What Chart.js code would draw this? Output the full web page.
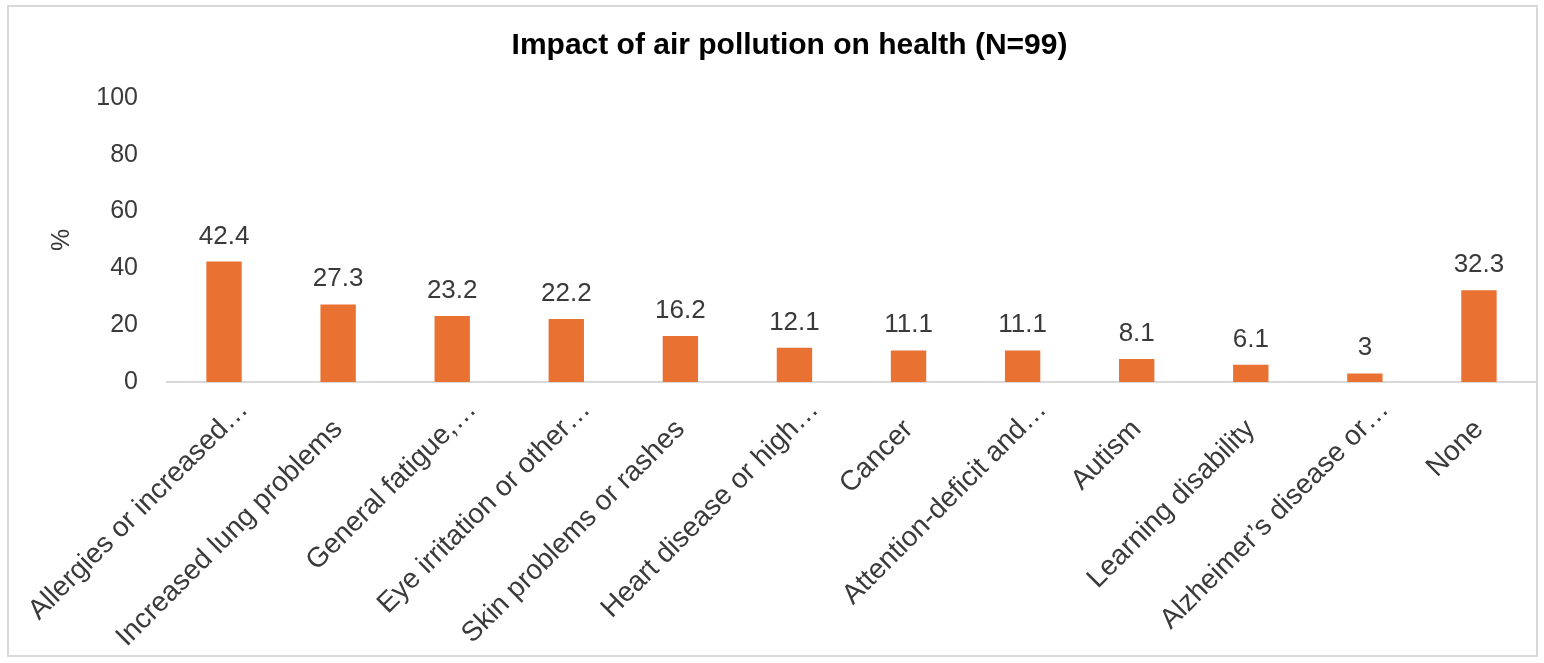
<!DOCTYPE html>
<html>
<head>
<meta charset="utf-8">
<script src="https://cdn.jsdelivr.net/npm/chart.js@4"></script>
<style>
  body { margin: 0; background: #fff; }
  #box {
    position: absolute; left: 7px; top: 5px;
    width: 1527px; height: 648px;
    border: 2px solid #d9d9d9; background: #fff;
  }
</style>
</head>
<body>
<div id="box"><canvas id="chart"></canvas></div>
<script>
const categories = [
  "Allergies or increased…",
  "Increased lung problems",
  "General fatigue,…",
  "Eye irritation or other…",
  "Skin problems or rashes",
  "Heart disease or high…",
  "Cancer",
  "Attention-deficit and…",
  "Autism",
  "Learning disability",
  "Alzheimer’s disease or…",
  "None"
];
const percentages = [42.4, 27.3, 23.2, 22.2, 16.2, 12.1, 11.1, 11.1, 8.1, 6.1, 3, 32.3];
const yTicks = [0, 20, 40, 60, 80, 100];

const FONT = "'Liberation Sans', Arial, sans-serif";
const TEXT = "#3a3a3a";

// rótulos inclinados do eixo x e valores em cima das barras
const labelsPlugin = {
  id: "labelsPlugin",
  afterLayout(chart) {
    // o título fica um pouco à direita do centro no original
    chart.titleBlock.left += 24;
  },
  afterDatasetsDraw(chart) {
    const ctx = chart.ctx;
    const meta = chart.getDatasetMeta(0);
    const xScale = chart.scales.x;
    ctx.save();
    ctx.fillStyle = TEXT;

    ctx.font = "26px " + FONT;
    ctx.textAlign = "center";
    ctx.textBaseline = "alphabetic";
    meta.data.forEach((bar, i) => {
      ctx.fillText(String(percentages[i]), bar.x, bar.y - 18);
    });

    // no Excel os rótulos cortados com "…" ficam mais perto do eixo
    ctx.font = "28px " + FONT;
    ctx.textAlign = "right";
    ctx.textBaseline = "middle";
    categories.forEach((label, i) => {
      const shift = label.endsWith("…") ? 28 : 0;
      ctx.save();
      ctx.translate(xScale.getPixelForTick(i), xScale.top + 43);
      ctx.rotate(-Math.PI / 4);
      ctx.fillText(label, shift, 0);
      ctx.restore();
    });
    ctx.restore();
  }
};

new Chart(document.getElementById("chart"), {
  type: "bar",
  data: {
    labels: categories,
    datasets: [{
      data: percentages,
      backgroundColor: "#e97132",
      categoryPercentage: 1,
      barPercentage: 0.31
    }]
  },
  options: {
    responsive: true,
    maintainAspectRatio: false,
    animation: false,
    layout: { padding: { left: 10, right: 0, top: 0, bottom: 0 } },
    plugins: {
      legend: { display: false },
      tooltip: { enabled: false },
      title: {
        display: true,
        text: "Impact of air pollution on health (N=99)",
        color: "#000",
        font: { family: FONT, size: 30, weight: "bold" },
        padding: { top: 21, bottom: 34 }
      }
    },
    scales: {
      x: {
        grid: { display: false },
        border: { color: "#d9d9d9", width: 2 },
        ticks: { display: false, autoSkip: false },
        afterFit(scale) {
          scale.height = 273;
          scale.paddingLeft = 0;
          scale.paddingRight = 0;
        }
      },
      y: {
        min: 0,
        max: 100,
        grid: { display: false },
        border: { display: false },
        afterBuildTicks(scale) { scale.ticks = yTicks.map(v => ({ value: v })); },
        ticks: {
          color: TEXT,
          font: { family: FONT, size: 25 },
          padding: 21
        },
        title: {
          display: true,
          text: "%",
          color: TEXT,
          font: { family: FONT, size: 25 },
          padding: { top: 28, bottom: 0 }
        },
        afterFit(scale) { scale.width = 148; }
      }
    }
  },
  plugins: [labelsPlugin]
});
</script>
</body>
</html>
